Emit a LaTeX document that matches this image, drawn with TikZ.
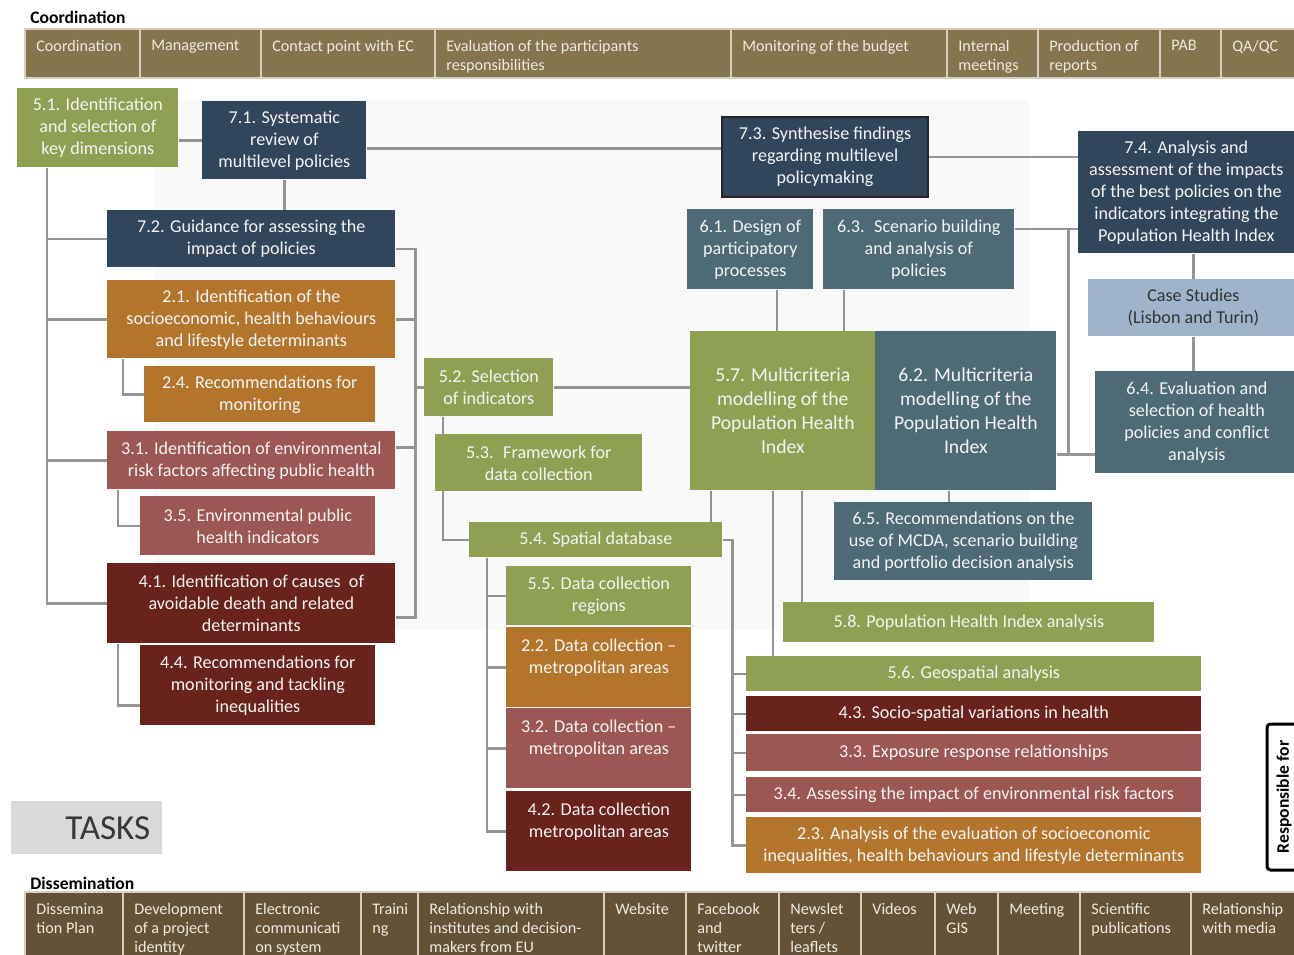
\documentclass[tikz,border=0pt]{standalone}
\usepackage{fontspec}
\setmainfont{Carlito}
\usepackage{tikz}
\usetikzlibrary{
    positioning,
    calc,
    backgrounds,
}

\definecolor{coordbrown}{HTML}{85754E}
\definecolor{dissbrown}{HTML}{635237}
\definecolor{barline}{HTML}{D6CFC0}
\definecolor{bartext}{HTML}{EFEBE0}
\definecolor{olivegreen}{HTML}{8FA052}
\definecolor{navyblue}{HTML}{32465B}
\definecolor{slateblue}{HTML}{4E6A75}
\definecolor{ochre}{HTML}{B3752B}
\definecolor{rosered}{HTML}{9C5653}
\definecolor{maroonred}{HTML}{6A231C}
\definecolor{casesblue}{HTML}{9FB4CA}
\definecolor{linegray}{HTML}{949494}
\definecolor{wmgray}{HTML}{F9F9F9}
\definecolor{tasksgray}{HTML}{D9D9D9}
\definecolor{boxtext}{HTML}{F4F4F4}

\newcommand{\taskfont}{\fontsize{10.3}{12.5}\selectfont}
\newcommand{\bigtaskfont}{\fontsize{11.2}{13.6}\selectfont}
\newcommand{\barfont}{\fontsize{9.2}{10.8}\selectfont}
\newcommand{\headfont}{\fontsize{10}{11}\selectfont\bfseries}

\begin{document}
\begin{tikzpicture}[
    x=0.02cm, y=-0.02cm,
    sz/.style 2 args={minimum width=#1*0.02cm, minimum height=#2*0.02cm},
    task/.style={anchor=north west, align=center, inner sep=1pt, text=boxtext, font=\taskfont},
    wp2/.style={task, fill=ochre},
    wp3/.style={task, fill=rosered},
    wp4/.style={task, fill=maroonred},
    wp5/.style={task, fill=olivegreen},
    wp6/.style={task, fill=slateblue},
    wp7/.style={task, fill=navyblue},
    casebox/.style={task, fill=casesblue, text=black!80},
    bigtask/.style={font=\bigtaskfont},
    link/.style={draw=linegray, line width=1.5pt},
    coordcell/.style={fill=coordbrown, draw=barline, line width=0.8pt},
    disscell/.style={fill=dissbrown, draw=barline, line width=0.8pt},
    celltext/.style={anchor=north west, align=left, text=bartext, font=\barfont, inner xsep=0.22cm, inner ysep=6pt},
    head/.style={anchor=west, font=\headfont, inner sep=0pt},
]
\useasboundingbox (0,0) rectangle (1294,954);
\clip (0,0) rectangle (1294,954);

% coordination bar
\node[head] (coordhead) at (30,17) {Coordination};
\foreach \xa/\xb/\txt [count=\i] in {25/140/Coordination, 140/261/Management, 261/435/Contact point with EC,
    435/731/{Evaluation of the participants\\responsibilities}, 731/947/Monitoring of the budget,
    947/1038/{Internal\\meetings}, 1038/1160/{Production of\\reports}, 1160/1221/PAB, 1221/1300/{QA/QC}}{
    \draw[coordcell] (\xa,29) rectangle (\xb,78);
    \node[celltext] (co\i) at (\xa,29) {\txt};
}

% work package 7
\node[wp5, sz={161}{79}] (t51) at (17,88) {5.1. Identification\\and selection of\\key dimensions};
\node[wp7, sz={164}{78}] (t71) at (202,101) {7.1. Systematic\\review of\\multilevel policies};
\node[wp7, sz={206}{80}, draw=black!85, line width=1.2pt] (t73) at (721,116) {7.3. Synthesise findings\\regarding multilevel\\policymaking};
\node[wp7, sz={216}{122}] (t74) at (1078,131) {7.4. Analysis and\\assessment of the impacts\\of the best policies on the\\indicators integrating the\\Population Health Index};
\node[wp7, sz={288}{57}] (t72) at (107,210) {7.2. Guidance for assessing the\\impact of policies};

% left column
\node[wp2, sz={288}{78}] (t21) at (107,280) {2.1. Identification of the\\socioeconomic, health behaviours\\and lifestyle determinants};
\node[wp2, sz={231}{56}] (t24) at (144,366) {2.4. Recommendations for\\monitoring};
\node[wp3, sz={288}{58}] (t31) at (107,431) {3.1. Identification of environmental\\risk factors affecting public health};
\node[wp3, sz={235}{59}] (t35) at (140,496) {3.5. Environmental public\\health indicators};
\node[wp4, sz={288}{80}] (t41) at (107,563) {4.1. Identification of causes~ of\\avoidable death and related\\determinants};
\node[wp4, sz={235}{80}] (t44) at (140,645) {4.4. Recommendations for\\monitoring and tackling\\inequalities};

% work package 6
\node[wp6, sz={126}{80}] (t61) at (687,209) {6.1. Design of\\participatory\\processes};
\node[wp6, sz={191}{80}] (t63) at (823,209) {6.3.~ Scenario building\\and analysis of\\policies};
\node[casebox, sz={210}{57}] (tcs) at (1088,279) {Case Studies\\(Lisbon and Turin)};
\node[wp6, sz={203}{102}] (t64) at (1095,371) {6.4. Evaluation and\\selection of health\\policies and conflict\\analysis};

% work package 5
\node[wp5, sz={129}{58}] (t52) at (424,358) {5.2. Selection\\of indicators};
\node[wp5, sz={207}{57}] (t53) at (435,434) {5.3.~ Framework for\\data collection};
\node[wp5, bigtask, sz={185}{159}] (t57) at (690,331) {5.7. Multicriteria\\modelling of the\\Population Health\\Index};
\node[wp6, bigtask, sz={181}{159}] (t62) at (875,331) {6.2. Multicriteria\\modelling of the\\Population Health\\Index};
\node[wp6, sz={258}{78}] (t65) at (834,502) {6.5. Recommendations on the\\use of MCDA, scenario building\\and portfolio decision analysis};
\node[wp5, sz={253}{35}] (t54) at (469,522) {5.4. Spatial database};

% data collection
\node[wp5, sz={185}{59}] (t55) at (506,566) {5.5. Data collection\\regions};
\node[wp2, sz={185}{80}] (t22) at (506,627) {2.2. Data collection –\\metropolitan areas\\\mbox{}};
\node[wp3, sz={185}{80}] (t32) at (506,708) {3.2. Data collection –\\metropolitan areas\\\mbox{}};
\node[wp4, sz={185}{80}] (t42) at (506,791) {4.2. Data collection\\metropolitan areas\\\mbox{}};

% analysis
\node[wp5, sz={371}{40}] (t58) at (783,602) {5.8. Population Health Index analysis};
\node[wp5, sz={455}{35}] (t56) at (746,656) {5.6. Geospatial analysis};
\node[wp4, sz={455}{35}] (t43) at (746,696) {4.3. Socio-spatial variations in health};
\node[wp3, sz={455}{37}] (t33) at (746,734) {3.3. Exposure response relationships};
\node[wp3, sz={455}{35}] (t34) at (746,777) {3.4. Assessing the impact of environmental risk factors};
\node[wp2, sz={455}{56}] (t23) at (746,817) {2.3. Analysis of the evaluation of socioeconomic\\inequalities, health behaviours and lifestyle determinants};

% tasks and responsible
\node[anchor=north west, fill=tasksgray, sz={151}{53}, text width=2.54cm, align=right, inner xsep=0.24cm,
    font=\fontsize{20}{22}\selectfont, text=black!78] (tasks) at (11,801) {TASKS};
\draw[line width=1.7pt, rounded corners=2pt] (1310,724) -| (1267,870) -- (1310,870);
\node[rotate=90, font=\headfont, inner sep=0pt] (resp) at (1284,797) {Responsible for};

% dissemination bar
\node[head] (disshead) at (30,883) {Dissemination};
\foreach \xa/\xb/\txt [count=\i] in {25/123/{Dissemina\\tion Plan}, 123/244/{Development\\of a project\\identity},
    244/361/{Electronic\\communicati\\on system}, 361/418/{Traini\\ng}, 418/604/{Relationship with\\institutes and decision-\\makers from EU},
    604/686/Website, 686/779/{Facebook\\and\\twitter}, 779/861/{Newslet\\ters /\\leaflets}, 861/935/Videos,
    935/998/{Web\\GIS}, 998/1080/Meeting, 1080/1191/{Scientific\\publications}, 1191/1300/{Relationship\\with media}}{
    \draw[disscell] (\xa,892) rectangle (\xb,970);
    \node[celltext] (di\i) at (\xa,892) {\txt};
}

\begin{scope}[on background layer]
    \fill[white] (0,0) rectangle (1294,954);
    \fill[wmgray] (155,100) rectangle (1030,630);
    % left trunk
    \coordinate (ltrunk) at ($(t51.south west)+(30,0)$);
    \draw[link] (ltrunk) |- (t41.west);
    \foreach \n in {t72,t21,t31} \draw[link] (\n.west) -- (\n.west -| ltrunk);
    \draw[link] ($(t21.south west)+(16,0)$) |- (t24.west);
    \draw[link] ($(t31.south west)+(11,0)$) |- (t35.west);
    \draw[link] ($(t41.south west)+(11,0)$) |- ($(t44.west)+(0,20)$);
    % policies
    \draw[link] (t51.east |- t71.west) -- (t71.west);
    \draw[link] (t71.south) -- (t71.south |- t72.north);
    \draw[link] ($(t71.east)+(0,8)$) coordinate (a71) -- (a71 -| t73.west);
    \draw[link] (t73.east) -- (t73.east -| t74.west);
    \draw[link] (tcs.north) -- (tcs.north |- t74.south);
    \draw[link] (tcs.south) -- (tcs.south |- t64.north);
    \draw[link] ($(t63.north east)+(0,20)$) coordinate (a63) -- (a63 -| t74.west);
    \draw[link] ($(t62.south east)+(0,-36)$) coordinate (a62) -- (a62 -| t64.west);
    \coordinate (rtrunk) at ($(t62.north east)+(12,0)$);
    \draw[link] (rtrunk |- a63) -- (rtrunk |- a62);
    % middle trunk
    \draw[link] ($(t72.east)+(0,10)$) -- ++(20,0) coordinate (mtrunk) |- ($(t41.east)+(0,14)$);
    \draw[link] (t21.east) -- (t21.east -| mtrunk);
    \draw[link] ($(t31.east)+(0,-13)$) coordinate (a31) -- (a31 -| mtrunk);
    \draw[link] (t52.west) -- (t52.west -| mtrunk);
    \draw[link] (t52.east) -- (t52.east -| t57.west);
    \draw[link] ($(t52.south west)+(19,0)$) |- (t54.west);
    % into and out of 5.7
    \draw[link] ($(t61.south west)+(90,0)$) coordinate (a61) -- (a61 |- t57.north);
    \draw[link] ($(t63.south west)+(21,0)$) coordinate (b63) -- (b63 |- t57.north);
    \draw[link] ($(t57.south west)+(21,0)$) coordinate (a57) -- (a57 |- t54.north);
    \draw[link] ($(t57.south west)+(83,0)$) coordinate (b57) -- (b57 |- t56.north);
    \draw[link] ($(t57.south west)+(112,0)$) coordinate (c57) -- (c57 |- t58.north);
    \draw[link] ($(t62.south west)+(74,0)$) coordinate (b62) -- (b62 |- t65.north);
    % spatial database
    \coordinate (strunk) at ($(t54.south west)+(18,0)$);
    \draw[link] (strunk) |- (t42.west);
    \foreach \n in {t55,t22,t32} \draw[link] (\n.west) -- (\n.west -| strunk);
    \draw[link] (t54.east) -- ++(10,0) coordinate (rs) |- (t23.west);
    \foreach \n in {t56,t43,t33,t34} \draw[link] (\n.west) -- (\n.west -| rs);
\end{scope}

\end{tikzpicture}
\end{document}
